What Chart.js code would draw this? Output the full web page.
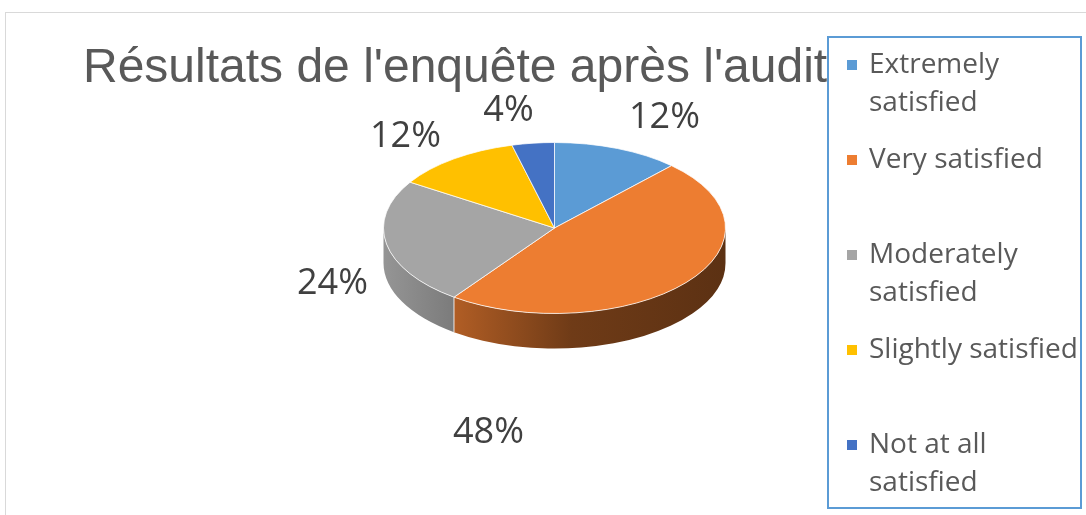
<!DOCTYPE html>
<html lang="fr">
  <head>
    <meta charset="UTF-8" />
    <title>Résultats de l'enquête après l'audit</title>
    <script src="https://cdn.jsdelivr.net/npm/chart.js@4.4.0/dist/chart.umd.min.js"></script>
    <style>
      body {
        margin: 0;
        background: #ffffff;
      }
      #chartContainer {
        width: 1086px;
        height: 515px;
        position: relative;
      }
    </style>
  </head>
  <body>
    <div id="chartContainer">
      <canvas id="pieChart"></canvas>
    </div>

    <script>
      const titleText = "Résultats de l'enquête après l'audit";
      const categories = [
        'Extremely satisfied',
        'Very satisfied',
        'Moderately satisfied',
        'Slightly satisfied',
        'Not at all satisfied',
      ];
      const shares = [12, 48, 24, 12, 4];
      const sliceColors = ['#5B9BD5', '#ED7D31', '#A5A5A5', '#FFC000', '#4472C4'];
      // where each percent label sits, relative to the pie centre (px)
      const labelOffsets = [
        [110, -110],
        [-66, 205],
        [-222, 56],
        [-149, -91],
        [-46, -117],
      ];

      const squash = 0.5; // vertical tilt of the pie
      const depth = 35; // thickness of the pie side
      const textColor = '#595959';

      function shade(hex, f) {
        const n = parseInt(hex.slice(1), 16);
        const r = Math.round(((n >> 16) & 255) * f);
        const g = Math.round(((n >> 8) & 255) * f);
        const b = Math.round((n & 255) * f);
        return `rgb(${r},${g},${b})`;
      }

      function wrapText(ctx, text, maxWidth) {
        const words = text.split(' ');
        const lines = [];
        let line = '';
        words.forEach((w) => {
          const test = line ? line + ' ' + w : w;
          if (line && ctx.measureText(test).width > maxWidth) {
            lines.push(line);
            line = w;
          } else {
            line = test;
          }
        });
        if (line) lines.push(line);
        return lines;
      }

      const pie3d = {
        id: 'pie3d',
        beforeDraw(chart) {
          const ctx = chart.ctx;
          ctx.save();
          ctx.fillStyle = '#ffffff';
          ctx.fillRect(0, 0, chart.width, chart.height);
          ctx.strokeStyle = '#d9d9d9';
          ctx.lineWidth = 1;
          ctx.strokeRect(5.5, 12.5, chart.width + 20, chart.height + 20);
          ctx.fillStyle = textColor;
          ctx.font = "48px 'Liberation Sans', Arial, sans-serif";
          ctx.textBaseline = 'alphabetic';
          ctx.textAlign = 'left';
          ctx.fillText(titleText, 83, 82);
          ctx.restore();
        },
        beforeDatasetsDraw(chart) {
          const ctx = chart.ctx;
          const meta = chart.getDatasetMeta(0);
          const colors = chart.data.datasets[0].backgroundColor;
          ctx.save();
          meta.data.forEach((arc, i) => {
            const p = arc.getProps(['x', 'y', 'startAngle', 'endAngle', 'outerRadius'], true);
            const a0 = Math.max(p.startAngle, 0);
            const a1 = Math.min(p.endAngle, Math.PI);
            if (a1 <= a0) return;
            const rx = p.outerRadius;
            const ry = p.outerRadius * squash;
            const grad = ctx.createLinearGradient(p.x - rx, 0, p.x + rx, 0);
            grad.addColorStop(0, shade(colors[i], 0.9));
            grad.addColorStop(0.2, shade(colors[i], 0.75));
            grad.addColorStop(0.55, shade(colors[i], 0.47));
            grad.addColorStop(1, shade(colors[i], 0.39));
            ctx.beginPath();
            ctx.ellipse(p.x, p.y, rx, ry, 0, a0, a1);
            ctx.ellipse(p.x, p.y + depth, rx, ry, 0, a1, a0, true);
            ctx.closePath();
            ctx.fillStyle = grad;
            ctx.fill();
            if (a0 > 0) {
              const sx = p.x + rx * Math.cos(a0);
              const sy = p.y + ry * Math.sin(a0);
              ctx.beginPath();
              ctx.moveTo(sx, sy);
              ctx.lineTo(sx, sy + depth);
              ctx.strokeStyle = 'rgba(255,255,255,0.85)';
              ctx.lineWidth = 1;
              ctx.stroke();
            }
          });
          ctx.restore();

          // squash the top face into an ellipse
          const cy = meta.data[0].y;
          ctx.save();
          ctx.translate(0, cy);
          ctx.scale(1, squash);
          ctx.translate(0, -cy);
        },
        afterDatasetsDraw(chart) {
          const ctx = chart.ctx;
          ctx.restore();
          const meta = chart.getDatasetMeta(0);
          const values = chart.data.datasets[0].data;
          const total = values.reduce((a, b) => a + b, 0);
          ctx.save();
          ctx.fillStyle = '#404040';
          ctx.font = "36px 'Open Sans', sans-serif";
          ctx.textAlign = 'center';
          ctx.textBaseline = 'middle';
          meta.data.forEach((arc, i) => {
            const pct = Math.round((values[i] / total) * 100) + '%';
            ctx.fillText(pct, arc.x + labelOffsets[i][0], arc.y + labelOffsets[i][1]);
          });
          ctx.restore();
        },
        afterDraw(chart) {
          const ctx = chart.ctx;
          const colors = chart.data.datasets[0].backgroundColor;
          ctx.save();
          ctx.fillStyle = '#ffffff';
          ctx.fillRect(828, 37, 253, 471);
          ctx.strokeStyle = '#5B9BD5';
          ctx.lineWidth = 2;
          ctx.strokeRect(828, 37, 253, 471);
          ctx.font = "28px 'Open Sans', sans-serif";
          ctx.textBaseline = 'middle';
          ctx.textAlign = 'left';
          chart.data.labels.forEach((label, i) => {
            const y = 65 + i * 95;
            ctx.fillStyle = colors[i];
            ctx.fillRect(847, y - 5, 10, 10);
            ctx.fillStyle = textColor;
            wrapText(ctx, label, 212).forEach((line, j) => {
              ctx.fillText(line, 869, y + j * 38);
            });
          });
          ctx.restore();
        },
      };

      const ctx = document.getElementById('pieChart').getContext('2d');
      new Chart(ctx, {
        type: 'pie',
        data: {
          labels: categories,
          datasets: [
            {
              data: shares,
              backgroundColor: sliceColors,
              borderColor: '#ffffff',
              borderWidth: 1,
              clip: false,
            },
          ],
        },
        options: {
          responsive: true,
          maintainAspectRatio: false,
          animation: false,
          radius: 171,
          layout: {
            padding: { left: 383, right: 360, top: 57, bottom: 116 },
          },
          plugins: {
            legend: { display: false },
            tooltip: { enabled: false },
          },
        },
        plugins: [pie3d],
      });
    </script>
  </body>
</html>
